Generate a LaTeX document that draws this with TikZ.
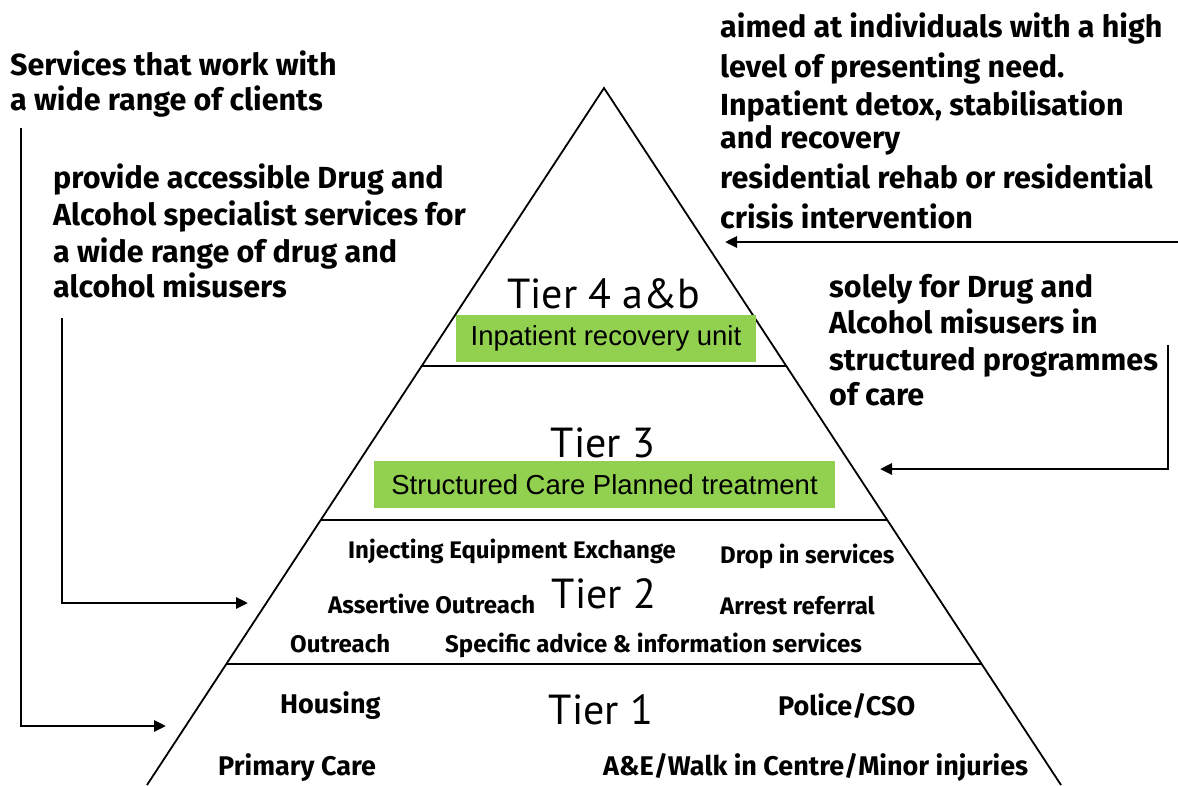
\documentclass[tikz,border=0pt]{standalone}
\usepackage{fontspec}
\setmainfont{Fira Sans}
\newfontfamily\tierfont{PT Sans}
\newfontfamily\boxfont{Liberation Sans}
\usetikzlibrary{calc,arrows.meta}
\definecolor{leaf}{HTML}{92D050}
\tikzset{
  edge/.style={draw=black, line width=1.8pt},
  link/.style={draw=black, line width=2.8pt, -{Triangle[length=12pt,width=11pt]}},
  note/.style={inner sep=0pt, anchor=base west, font=\bfseries\fontsize{30.5}{34}\selectfont},
  item/.style={inner sep=0pt, anchor=base west, font=\bfseries\fontsize{24}{28}\selectfont},
  bigitem/.style={item, font=\bfseries\fontsize{27}{31}\selectfont},
  tier/.style={inner sep=0pt, anchor=base, font=\tierfont\fontsize{42}{48}\selectfont},
  band/.style={fill=leaf, inner sep=0pt, minimum height=47pt, font=\boxfont\fontsize{27.5}{32}\selectfont}
}

\begin{document}
\begin{tikzpicture}[x=1pt, y=-1pt]
  \useasboundingbox (0,0) rectangle (1178,785);

  % pyramid outline and tier dividers
  \coordinate (apex) at (604,88);
  \coordinate (baseL) at (147,785);
  \coordinate (baseR) at (1061,785);
  \draw[edge] (baseL) -- (apex) -- (baseR);
  \foreach \t in {0.399,0.620,0.826}
    \draw[edge] ($(apex)!\t!(baseL)$) -- ($(apex)!\t!(baseR)$);

  % tier titles and green bands
  \node[tier] (tier4) at (604,308) {Tier 4 a\&b};
  \node[band, minimum width=300pt] (inpatient) at (606,338.5) {Inpatient recovery unit};
  \node[tier] (tier3) at (603,457) {Tier 3};
  \node[band, minimum width=461pt] (structured) at (604.5,484.5) {Structured Care Planned treatment};
  \node[tier] (tier2) at (604,608) {Tier 2};
  \node[tier] (tier1) at (601,724) {Tier 1};

  % tier 2 services
  \node[item] (needle) at (348,558) {Injecting Equipment Exchange};
  \node[item] (dropin) at (720,563) {Drop in services};
  \node[item] (assertive) at (328,613) {Assertive Outreach};
  \node[item] (arrest) at (720,614) {Arrest referral};
  \node[item] (outreach) at (290,652) {Outreach};
  \node[item] (advice) at (445,652) {Specific advice \& information services};

  % tier 1 services
  \node[bigitem] (housing) at (280,713) {Housing};
  \node[bigitem] (police) at (778,715) {Police/CSO};
  \node[bigitem] (primary) at (218,775) {Primary Care};
  \node[bigitem] (emergency) at (603,775) {A\&E/Walk in Centre/Minor injuries};

  % left notes
  \node[note] (wide1) at (10,75) {Services that work with};
  \node[note] (wide2) at (10,110) {a wide range of clients};
  \node[note] (spec1) at (53,188) {provide accessible Drug and};
  \node[note] (spec2) at (53,225) {Alcohol specialist services for};
  \node[note] (spec3) at (53,262) {a wide range of drug and};
  \node[note] (spec4) at (53,297) {alcohol misusers};

  % right notes
  \node[note] (high1) at (720,37) {aimed at individuals with a high};
  \node[note] (high2) at (720,77) {level of presenting need.};
  \node[note] (high3) at (720,115) {Inpatient detox, stabilisation};
  \node[note] (high4) at (720,148) {and recovery};
  \node[note] (high5) at (720,188) {residential rehab or residential};
  \node[note] (high6) at (720,228) {crisis intervention};
  \node[note] (solely1) at (829,297) {solely for Drug and};
  \node[note] (solely2) at (829,333) {Alcohol misusers in};
  \node[note] (solely3) at (829,370) {structured programmes};
  \node[note] (solely4) at (829,405) {of care};

  % arrows into the tiers
  \coordinate (wideFoot) at (21,128);
  \coordinate (tier1Side) at (166,726);
  \coordinate (specFoot) at (62,318);
  \coordinate (tier2Side) at (248,603);
  \coordinate (highFoot) at (1178,242);
  \coordinate (tier4Side) at (725,242);
  \coordinate (solelyFoot) at (1168,345);
  \coordinate (tier3Side) at (880,469);
  \draw[link] (wideFoot) |- (tier1Side);
  \draw[link] (specFoot) |- (tier2Side);
  \draw[link] (highFoot) -- (tier4Side);
  \draw[link] (solelyFoot) |- (tier3Side);
\end{tikzpicture}
\end{document}
